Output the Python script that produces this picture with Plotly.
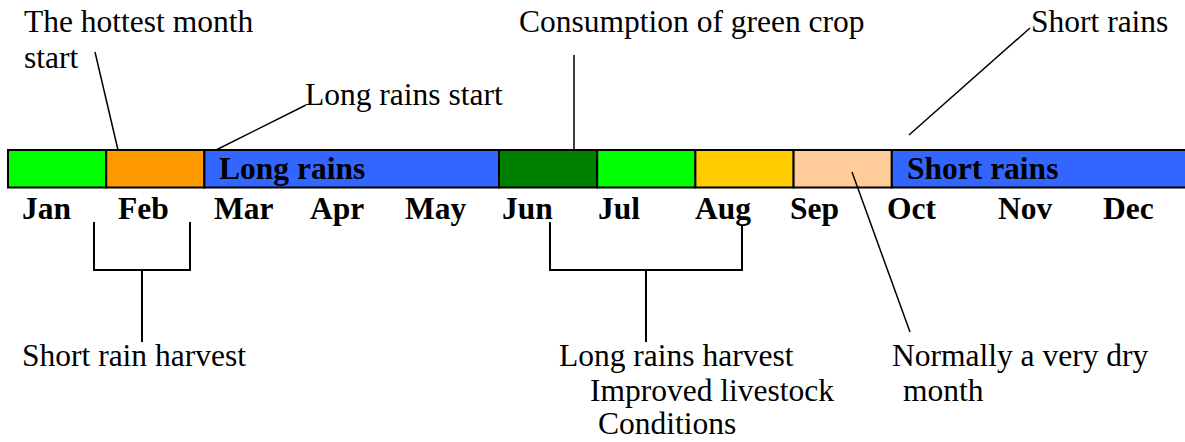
import plotly.graph_objects as go

# ---------------- data ----------------
MONTHS = ["Jan", "Feb", "Mar", "Apr", "May", "Jun", "Jul", "Aug", "Sep", "Oct", "Nov", "Dec"]

# calendar segments (month index where the segment starts, length in months)
SEG_START = [0, 1, 2, 5, 6, 7, 8, 9]
SEG_LEN = [1, 1, 3, 1, 1, 1, 1, 3]
SEG_LABEL = ["", "", "Long rains", "", "", "", "", "Short rains"]

# ---------------- styles ----------------
SEG_COLOR = ["#00FF00", "#FF9900", "#3366FF", "#008000", "#00FF00", "#FFCC00", "#FFCC99", "#3366FF"]
FONT = "Liberation Serif, Times New Roman, serif"
FS = 31.5

W, H = 1185, 442
X0_PX = 8          # pixel of Jan start
MW = 98.2          # pixels per month
BAR_TOP, BAR_BOT = 150, 187.5


def mx(p):          # pixel x -> month units
    return (p - X0_PX) / MW


def py(p):          # pixel y -> paper
    return 1 - p / H


fig = go.Figure()
for s, l, c in zip(SEG_START, SEG_LEN, SEG_COLOR):
    fig.add_trace(go.Bar(
        y=[0], x=[l], base=[s], orientation="h", width=1,
        marker=dict(color=c, line=dict(color="black", width=2)),
        hoverinfo="skip", showlegend=False,
    ))

annotations = []


def text(t, left_px, base_px, bold=False):
    annotations.append(dict(
        x=mx(left_px - 1), y=py(base_px - 10.5), xref="x", yref="paper",
        xanchor="left", yanchor="middle", showarrow=False, borderpad=0,
        text=f"<b>{t}</b>" if bold else t,
        font=dict(family=FONT, size=FS, color="black"),
    ))


# month labels below the bar
MONTH_LEFT_PX = [22, 118, 214, 310, 405, 502, 598, 695, 790, 887, 998, 1103]
for m, lp in zip(MONTHS, MONTH_LEFT_PX):
    text(m, lp, 219, bold=True)

# labels inside the bar
for s, lab in zip(SEG_START, SEG_LABEL):
    if lab:
        text(lab, X0_PX + s * MW + 15, 179, bold=True)

# annotations above
text("The hottest month", 24, 32)
text("start", 24, 68)
text("Long rains start", 305, 105)
text("Consumption of green crop", 519, 32)
text("Short rains", 1031, 32)

# annotations below
text("Short rain harvest", 22, 366)
text("Long rains harvest", 559, 366)
text("Improved livestock", 590, 401)
text("Conditions", 598, 434)
text("Normally a very dry", 892, 366)
text("month", 903, 401)

shapes = []


def seg(x1, y1, x2, y2, w=1.5):
    shapes.append(dict(type="line", xref="x", yref="paper",
                       x0=mx(x1), y0=py(y1), x1=mx(x2), y1=py(y2),
                       line=dict(color="black", width=w)))


# leader lines
seg(95, 52, 118, 150)
seg(306, 105, 216, 150)
seg(574, 55, 574, 150)
seg(1030, 28, 909, 135)
seg(852, 172, 910, 332)

# Feb bracket
seg(94, 222, 94, 270, 2)
seg(93, 270, 191, 270, 2)
seg(190, 222, 190, 270, 2)
seg(142, 270, 142, 342, 2)

# Jun-Aug bracket
seg(550, 222, 550, 270, 2)
seg(549, 270, 743, 270, 2)
seg(742, 225, 742, 270, 2)
seg(646, 270, 646, 342, 2)

fig.update_layout(
    width=W, height=H,
    margin=dict(l=0, r=0, t=0, b=0),
    paper_bgcolor="white", plot_bgcolor="white",
    barmode="overlay",
    showlegend=False,
    xaxis=dict(range=[mx(0), mx(W)], visible=False, fixedrange=True),
    yaxis=dict(range=[(BAR_TOP + BAR_BOT) / 2 / (BAR_BOT - BAR_TOP) - H / (BAR_BOT - BAR_TOP),
                      (BAR_TOP + BAR_BOT) / 2 / (BAR_BOT - BAR_TOP)],
               visible=False, fixedrange=True),
    annotations=annotations,
    shapes=shapes,
)

fig.write_html(
    "out.html",
    config={"displayModeBar": False},
    post_script="document.body.style.margin='0';document.body.style.overflow='hidden';",
)
